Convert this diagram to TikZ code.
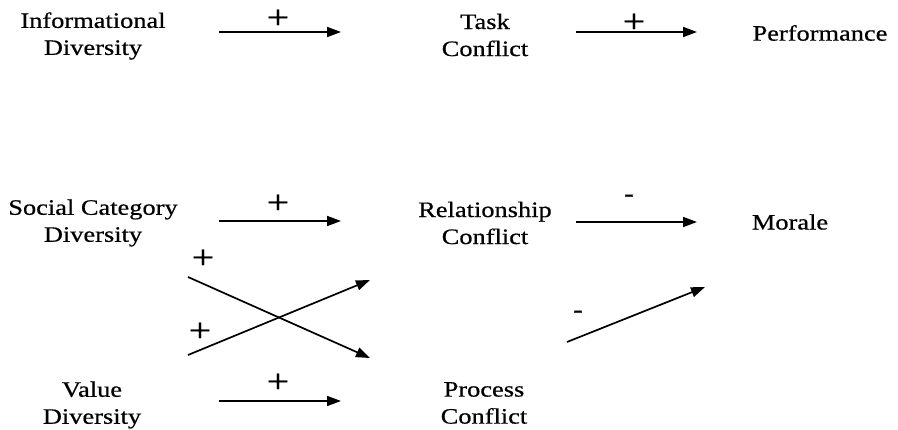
\documentclass[tikz,border=0pt]{standalone}
\usepackage{fontspec}
\setmainfont{Liberation Serif}[FakeStretch=1.2,FakeBold=0.6]
\usetikzlibrary{arrows.meta}
\tikzset{
  lbl/.style={align=center, inner sep=0pt, font=\fontsize{22}{27}\selectfont},
  sgn/.style={inner sep=0pt, font=\fontsize{33}{33}\selectfont},
  neg/.style={inner sep=0pt, font=\fontsize{24}{24}\selectfont\bfseries},
  conn/.style={line width=1.7pt, -{Triangle[length=14pt,width=10pt]}},
}
\begin{document}
\begin{tikzpicture}[x=1pt,y=-1pt]
\useasboundingbox (0,0) rectangle (898,430);
% nodes
\node[lbl] (info) at (93,36) {Informational\\Diversity};
\node[lbl] (task) at (485,35) {Task\\Conflict};
\node[lbl] (perf) at (820,33) {Performance};
\node[lbl] (soc) at (93,223) {Social Category\\Diversity};
\node[lbl] (rel) at (485,223) {Relationship\\Conflict};
\node[lbl] (mor) at (790,222) {Morale};
\node[lbl] (val) at (92,405) {Value\\Diversity};
\node[lbl] (proc) at (484,403) {Process\\Conflict};
% connector end points
\coordinate (a1s) at (219,32); \coordinate (a1e) at (341,32);
\coordinate (a2s) at (576,32); \coordinate (a2e) at (697,32);
\coordinate (b1s) at (219,221); \coordinate (b1e) at (341,221);
\coordinate (b2s) at (576,222); \coordinate (b2e) at (697,222);
\coordinate (c1s) at (188,277); \coordinate (c1e) at (370,358);
\coordinate (c2s) at (188,355); \coordinate (c2e) at (370,280);
\coordinate (d1s) at (219,401); \coordinate (d1e) at (341,401);
\coordinate (e1s) at (567,342); \coordinate (e1e) at (705,287);
% connectors
\draw[conn] (a1s) -- (a1e);
\draw[conn] (a2s) -- (a2e);
\draw[conn] (b1s) -- (b1e);
\draw[conn] (b2s) -- (b2e);
\draw[conn] (c1s) -- (c1e);
\draw[conn] (c2s) -- (c2e);
\draw[conn] (d1s) -- (d1e);
\draw[conn] (e1s) -- (e1e);
% signs
\node[sgn] (p1) at (278,19) {+};
\node[sgn] (p2) at (634,23) {+};
\node[sgn] (p3) at (278,204) {+};
\node[sgn] (p4) at (203,259) {+};
\node[sgn] (p5) at (200,332) {+};
\node[sgn] (p6) at (278,383) {+};
\node[neg] (m1) at (629,198) {-};
\node[neg] (m2) at (578,314) {-};
\end{tikzpicture}
\end{document}
